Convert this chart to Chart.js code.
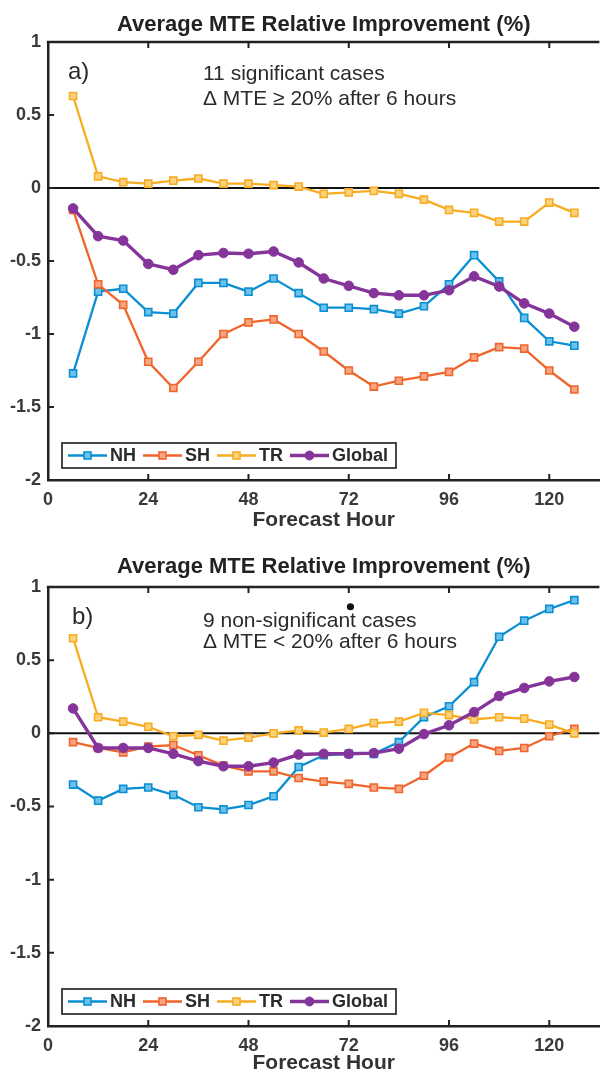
<!DOCTYPE html>
<html>
<head>
<meta charset="utf-8">
<title>Average MTE Relative Improvement</title>
<script src="https://cdn.jsdelivr.net/npm/chart.js@4.4.1/dist/chart.umd.min.js"></script>
<style>
  html, body { margin: 0; padding: 0; background: #fff; overflow: hidden; width: 600px; height: 1073px; }
  .panel { position: absolute; left: 0; }
</style>
</head>
<body>
<div class="panel" style="top:0"><canvas id="chartA" width="606" height="540"></canvas></div>
<div class="panel" style="top:540px"><canvas id="chartB" width="606" height="533"></canvas></div>
<script>
// forecast hours on the x axis
const hours = [6, 12, 18, 24, 30, 36, 42, 48, 54, 60, 66, 72, 78, 84, 90, 96, 102, 108, 114, 120, 126];
const xTicks = [0, 24, 48, 72, 96, 120];
const yTicks = [1, 0.5, 0, -0.5, -1, -1.5, -2];
const seriesNames = ['NH', 'SH', 'TR', 'Global'];

// panel a) 11 significant cases
const nhA = [-1.27, -0.71, -0.69, -0.85, -0.86, -0.65, -0.65, -0.71, -0.62, -0.72, -0.82, -0.82, -0.83, -0.86, -0.81, -0.66, -0.46, -0.64, -0.89, -1.05, -1.08];
const shA = [-0.15, -0.66, -0.80, -1.19, -1.37, -1.19, -1.00, -0.92, -0.90, -1.00, -1.12, -1.25, -1.36, -1.32, -1.29, -1.26, -1.16, -1.09, -1.10, -1.25, -1.38];
const trA = [0.63, 0.08, 0.04, 0.03, 0.05, 0.065, 0.03, 0.03, 0.02, 0.01, -0.04, -0.03, -0.02, -0.04, -0.08, -0.15, -0.17, -0.23, -0.23, -0.10, -0.17];
const glA = [-0.14, -0.33, -0.36, -0.52, -0.56, -0.46, -0.445, -0.45, -0.435, -0.51, -0.62, -0.67, -0.72, -0.735, -0.735, -0.70, -0.605, -0.675, -0.79, -0.86, -0.95];

// panel b) 9 non-significant cases
const nhB = [-0.35, -0.46, -0.38, -0.37, -0.42, -0.505, -0.52, -0.49, -0.43, -0.23, -0.15, -0.14, -0.14, -0.06, 0.11, 0.185, 0.35, 0.66, 0.77, 0.85, 0.91];
const shB = [-0.06, -0.10, -0.13, -0.09, -0.08, -0.15, -0.22, -0.26, -0.26, -0.305, -0.33, -0.345, -0.37, -0.38, -0.29, -0.165, -0.07, -0.12, -0.10, -0.02, 0.03];
const trB = [0.65, 0.11, 0.08, 0.045, -0.02, -0.01, -0.05, -0.03, 0.0, 0.02, 0.005, 0.03, 0.07, 0.08, 0.14, 0.125, 0.095, 0.11, 0.10, 0.06, 0.0];
const glB = [0.17, -0.10, -0.10, -0.10, -0.14, -0.19, -0.225, -0.225, -0.20, -0.145, -0.14, -0.14, -0.135, -0.105, -0.005, 0.055, 0.145, 0.255, 0.31, 0.355, 0.385];

const FONT = "'Liberation Sans', Arial, Helvetica, sans-serif";
Chart.defaults.font.family = FONT;

const colors = ['#0a8fd2', '#f0652b', '#f7ac22', '#85359a'];
const fills = ['#6cc0ea', '#f8a582', '#fbd27e', '#85359a'];

function makeDatasets(values) {
  return values.map((vals, i) => {
    const isGlobal = i === 3;
    return {
      label: seriesNames[i],
      data: hours.map((h, k) => ({ x: h, y: vals[k] })),
      borderColor: colors[i],
      backgroundColor: fills[i],
      pointBorderColor: colors[i],
      pointBackgroundColor: fills[i],
      borderWidth: isGlobal ? 3.4 : 2.3,
      pointStyle: isGlobal ? 'circle' : 'rect',
      pointRadius: isGlobal ? 4.8 : 5,
      pointBorderWidth: isGlobal ? 1 : 1.6,
      tension: 0,
      order: 4 - i   // later series drawn on top, like matlab
    };
  });
}

// draws the matlab-like box, inward ticks, zero line, titles, legend and notes
const matlabLook = {
  id: 'matlabLook',
  beforeDatasetsDraw(chart) {
    const { ctx, chartArea: a, scales: { y } } = chart;
    const y0 = y.getPixelForValue(0);
    ctx.save();
    ctx.strokeStyle = '#111';
    ctx.lineWidth = 2;
    ctx.beginPath();
    ctx.moveTo(a.left, y0);
    ctx.lineTo(a.right, y0);
    ctx.stroke();
    ctx.restore();
  },
  afterDraw(chart, args, o) {
    const { ctx, chartArea: a, scales: { x, y } } = chart;
    ctx.save();
    // top border
    ctx.strokeStyle = '#222';
    ctx.lineWidth = 2.5;
    ctx.beginPath();
    ctx.moveTo(a.left - 1.2, a.top);
    ctx.lineTo(a.right, a.top);
    ctx.stroke();

    // inward ticks
    ctx.lineWidth = 2;
    ctx.beginPath();
    xTicks.forEach(v => {
      if (v === 0) return;
      const px = x.getPixelForValue(v);
      ctx.moveTo(px, a.bottom);
      ctx.lineTo(px, a.bottom - 6);
      ctx.moveTo(px, a.top);
      ctx.lineTo(px, a.top + 6);
    });
    yTicks.forEach(v => {
      if (v === 1 || v === -2) return;
      const py = y.getPixelForValue(v);
      ctx.moveTo(a.left, py);
      ctx.lineTo(a.left + 6, py);
    });
    ctx.stroke();

    const cx = (a.left + a.right) / 2;
    ctx.textAlign = 'center';
    ctx.textBaseline = 'alphabetic';
    ctx.fillStyle = '#222';
    ctx.font = 'bold 22px ' + FONT;
    ctx.fillText('Average MTE Relative Improvement (%)', cx, o.titleY);

    ctx.fillStyle = '#333';
    ctx.font = 'bold 21px ' + FONT;
    ctx.fillText('Forecast Hour', cx, a.bottom + o.xTitleGap);

    // panel label and notes
    ctx.textAlign = 'left';
    ctx.fillStyle = '#2a2a2a';
    ctx.font = '24px ' + FONT;
    ctx.fillText(o.panel, o.panelX, a.top + 37);
    ctx.font = '21px ' + FONT;
    ctx.fillText(o.note[0], 203, a.top + o.noteY[0]);
    ctx.fillText(o.note[1], 203, a.top + o.noteY[1]);

    if (o.dot) {
      ctx.fillStyle = '#111';
      ctx.beginPath();
      ctx.arc(x.getPixelForValue(o.dot[0]), y.getPixelForValue(o.dot[1]), 3.6, 0, Math.PI * 2);
      ctx.fill();
    }

    // legend box
    const bl = a.left + 14, bb = a.bottom - 12, bh = 25;
    ctx.font = 'bold 18px ' + FONT;
    let lx = bl + 6;
    const ly = bb - bh / 2;
    chart.data.datasets.forEach(ds => {
      ctx.strokeStyle = ds.borderColor;
      ctx.lineWidth = ds.borderWidth;
      ctx.beginPath();
      ctx.moveTo(lx, ly);
      ctx.lineTo(lx + 39, ly);
      ctx.stroke();
      ctx.fillStyle = ds.pointBackgroundColor;
      ctx.strokeStyle = ds.pointBorderColor;
      ctx.lineWidth = ds.pointBorderWidth;
      if (ds.pointStyle === 'circle') {
        ctx.beginPath();
        ctx.arc(lx + 19.5, ly, 4.5, 0, Math.PI * 2);
        ctx.fill();
        ctx.stroke();
      } else {
        ctx.fillRect(lx + 16, ly - 3.5, 7, 7);
        ctx.strokeRect(lx + 16, ly - 3.5, 7, 7);
      }
      ctx.fillStyle = '#2a2a2a';
      ctx.textBaseline = 'middle';
      ctx.fillText(ds.label, lx + 42, ly + 1);
      lx += 42 + ctx.measureText(ds.label).width + 7;
    });
    ctx.strokeStyle = '#333';
    ctx.lineWidth = 1.8;
    ctx.strokeRect(bl, bb - bh, lx - bl + 1, bh);
    ctx.restore();
  }
};

function makeChart(id, values, padTop, xHeight, look) {
  return new Chart(document.getElementById(id), {
    type: 'line',
    data: { datasets: makeDatasets(values) },
    options: {
      responsive: false,
      animation: false,
      layout: { padding: { top: padTop, left: 0, right: 0, bottom: 0 } },
      plugins: {
        legend: { display: false },
        title: { display: false },
        tooltip: { enabled: false },
        matlabLook: look
      },
      scales: {
        x: {
          type: 'linear',
          min: 0,
          max: 132,
          afterBuildTicks: s => { s.ticks = xTicks.map(v => ({ value: v })); },
          afterFit: s => { s.height = xHeight; },
          grid: { display: false, drawTicks: false },
          border: { display: true, color: '#222', width: 2.5 },
          ticks: {
            padding: 9,
            color: '#3a3a3a',
            font: { size: 18, weight: 'bold' },
            maxRotation: 0,
            callback: v => String(v)
          }
        },
        y: {
          min: -2,
          max: 1,
          afterBuildTicks: s => { s.ticks = yTicks.map(v => ({ value: v })); },
          afterFit: s => { s.width = 48; },
          grid: { display: false, drawTicks: false },
          border: { display: true, color: '#222', width: 2.5 },
          ticks: {
            padding: 7,
            color: '#3a3a3a',
            font: { size: 18, weight: 'bold' },
            callback: v => String(v)
          }
        }
      }
    },
    plugins: [matlabLook]
  });
}

makeChart('chartA', [nhA, shA, trA, glA], 42, 60, {
  titleY: 31, xTitleGap: 46, panel: 'a)', panelX: 68,
  note: ['11 significant cases', '\u0394 MTE \u2265 20% after 6 hours'], noteY: [38, 63]
});
makeChart('chartB', [nhB, shB, trB, glB], 47, 47, {
  titleY: 33, xTitleGap: 43, panel: 'b)', panelX: 72,
  note: ['9 non-significant cases', '\u0394 MTE < 20% after 6 hours'], noteY: [40, 61],
  dot: [72.4, 0.865]
});
</script>
</body>
</html>
